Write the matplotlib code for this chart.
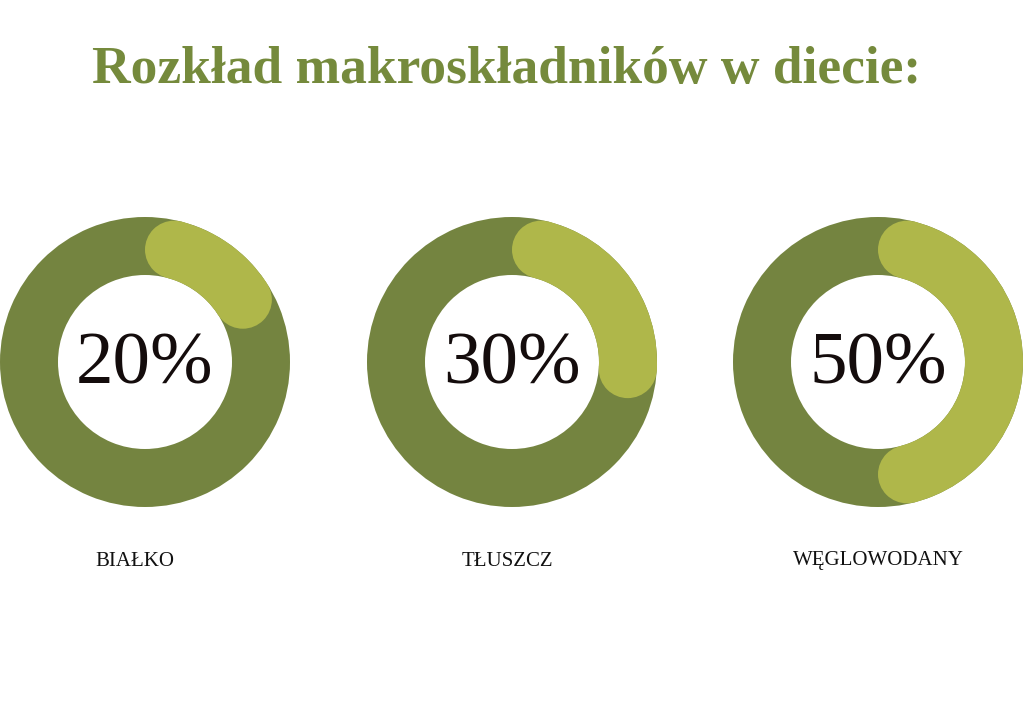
import numpy as np
import matplotlib.pyplot as plt
from matplotlib.patches import Wedge, Circle

# dane
nazwy = ["BIAŁKO", "TŁUSZCZ", "WĘGLOWODANY"]
procenty = [20, 30, 50]
tytul = "Rozkład makroskładników w diecie:"

ciemny = "#748440"
jasny = "#afb74a"
zielony_tytul = "#758a3c"

fig = plt.figure(figsize=(10.24, 7.24), dpi=100)
ax = fig.add_axes([0, 0, 1, 1])
ax.set_xlim(0, 1024)
ax.set_ylim(0, 724)
ax.set_aspect("equal")
ax.axis("off")

srodki_x = [145, 512, 878]
srodek_y = 362
r_out = 145
szer = 58
r_mid = r_out - szer / 2
cap = np.degrees(np.arcsin((szer / 2) / r_mid))

label_x = [135, 507, 878]

for i, p in enumerate(procenty):
    cx = srodki_x[i]
    ax.add_patch(Wedge((cx, srodek_y), r_out, 0, 360, width=szer,
                       facecolor=ciemny, edgecolor="none"))
    a1 = 90 - cap
    a2 = 90 - 360 * p / 100 + cap
    ax.add_patch(Wedge((cx, srodek_y), r_out, a2, a1, width=szer,
                       facecolor=jasny, edgecolor="none"))
    for a in (a1, a2):
        t = np.radians(a)
        ax.add_patch(Circle((cx + r_mid * np.cos(t), srodek_y + r_mid * np.sin(t)),
                            szer / 2, facecolor=jasny, edgecolor="none"))
    ax.text(cx, srodek_y - 4, f"{p}%", ha="center", va="center",
            fontsize=54, family="Liberation Serif", color="#140c0c")
    ax.text(label_x[i], 724 - 561, nazwy[i], ha="center", va="center",
            fontsize=15, family="Liberation Serif", color="#111111")

ax.text(507, 724 - 70, tytul, ha="center", va="center", fontsize=38.5,
        family="Liberation Serif", fontweight="bold", color=zielony_tytul)

fig.savefig("out.png", dpi=100)
